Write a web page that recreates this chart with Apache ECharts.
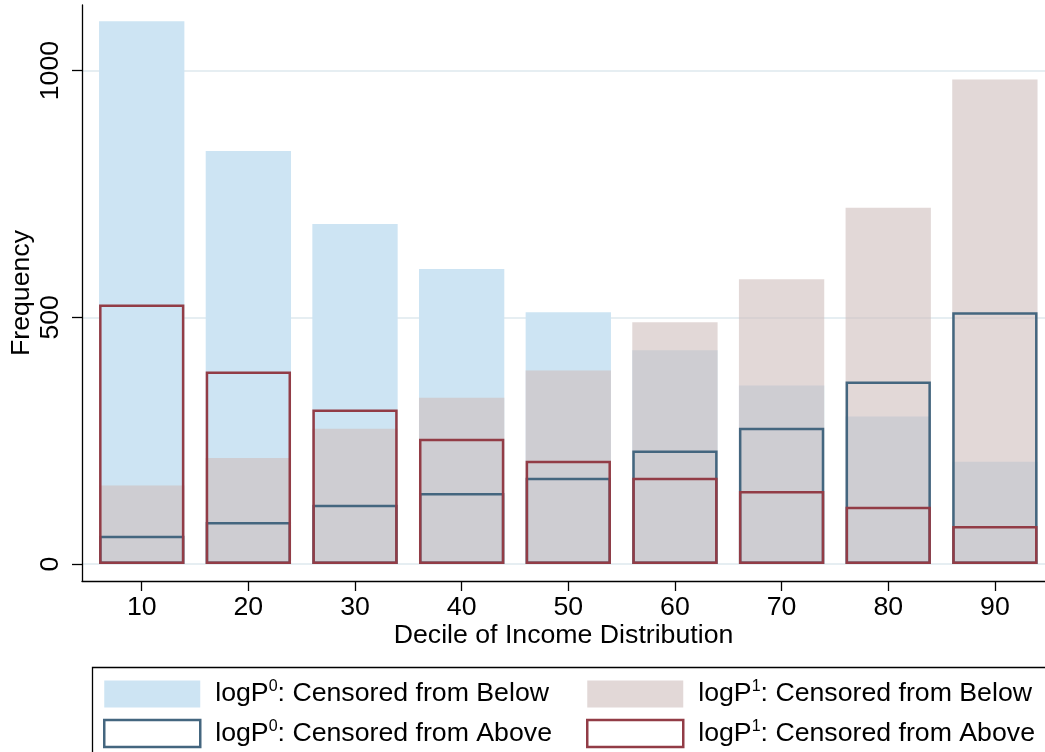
<!DOCTYPE html>
<html>
<head>
<meta charset="utf-8">
<script src="https://cdn.jsdelivr.net/npm/echarts@6/dist/echarts.min.js"></script>
<style>
html,body{margin:0;padding:0;background:#fff;}
#chart{width:1045px;height:752px;}
</style>
</head>
<body>
<div id="chart"></div>
<script>
// ---- data ----
const deciles = [10, 20, 30, 40, 50, 60, 70, 80, 90];
const p0Below = [1100, 837, 689, 598, 510, 433, 362, 299, 207];
const p1Below = [159, 215, 274, 337, 392, 490, 577, 722, 982];
const p0Above = [57, 85, 120, 144, 175, 230, 276, 370, 510];
const p1Above = [526, 390, 313, 254, 209, 175, 148, 116, 77];
const yTicks = [0, 500, 1000];
const xTicks = [10, 20, 30, 40, 50, 60, 70, 80, 90];

const names = {
  p0Below: 'logP0: Censored from Below',
  p1Below: 'logP1: Censored from Below',
  p0Above: 'logP0: Censored from Above',
  p1Above: 'logP1: Censored from Above'
};

const FONT = '"Liberation Sans", Arial, Helvetica, sans-serif';
const FS = 26.7;
const HALF = 4; // half bar width in x units
const BLUE_FILL = '#cde4f3';
const PINK_FILL = 'rgba(207,190,188,0.6)';
const PINK_LEGEND = '#e2d8d7';
const BLUE_LINE = '#44667f';
const RED_LINE = '#923c46';

function pairs(vals) { return deciles.map((d, i) => [d, vals[i]]); }

function renderFill(color) {
  return function (params, api) {
    const x = api.value(0), v = api.value(1);
    const tl = api.coord([x - HALF, v]);
    const br = api.coord([x + HALF, 0]);
    return {
      type: 'rect',
      shape: { x: tl[0], y: tl[1], width: br[0] - tl[0], height: br[1] - tl[1] },
      style: { fill: color, stroke: null }
    };
  };
}
function renderOutline(color, lw) {
  return function (params, api) {
    const x = api.value(0), v = api.value(1);
    const tl = api.coord([x - HALF, v]);
    const br = api.coord([x + HALF, 0]);
    const h = lw / 2;
    return {
      type: 'rect',
      shape: { x: tl[0] + h, y: tl[1] + h, width: br[0] - tl[0] - lw, height: br[1] - tl[1] - lw },
      style: { fill: 'none', stroke: color, lineWidth: lw }
    };
  };
}

function legendFormatter(name) {
  const m = name.match(/^logP(\d)(.*)$/);
  return '{g|}{a|logP}{s|' + m[1] + '}{a|' + m[2] + '}';
}
const legendRich = {
  g: { width: 10 },
  a: { fontSize: FS, fontFamily: FONT, color: '#000', lineHeight: 30 },
  s: { fontSize: 16, fontFamily: FONT, color: '#000', lineHeight: 18, verticalAlign: 'top' }
};

const chart = echarts.init(document.getElementById('chart'), null, { renderer: 'canvas' });
chart.setOption({
  animation: false,
  backgroundColor: '#fff',
  grid: { left: 82, right: 0, top: 5, bottom: 171, containLabel: false, outerBoundsMode: 'none' },
  xAxis: {
    type: 'value',
    min: 4.4, max: 94.7,
    name: 'Decile of Income Distribution',
    nameLocation: 'middle',
    nameGap: 41,
    nameMoveOverlap: false,
    nameTextStyle: { fontSize: FS, fontFamily: FONT, color: '#000' },
    axisLine: { show: true, onZero: false, lineStyle: { color: '#000', width: 1.3 } },
    axisTick: { show: true, length: 10, customValues: xTicks, lineStyle: { color: '#000', width: 1.3 } },
    axisLabel: { customValues: xTicks, fontSize: FS, fontFamily: FONT, color: '#000', margin: 13, formatter: v => String(v) },
    splitLine: { show: false }
  },
  yAxis: {
    type: 'value',
    min: -34.5, max: 1133,
    name: 'Frequency',
    nameLocation: 'middle',
    nameGap: 47,
    nameMoveOverlap: false,
    nameTextStyle: { fontSize: FS, fontFamily: FONT, color: '#000' },
    axisLine: { show: true, onZero: false, lineStyle: { color: '#000', width: 1.3 } },
    axisTick: { show: true, length: 10, customValues: yTicks, lineStyle: { color: '#000', width: 1.3 } },
    axisLabel: { customValues: yTicks, rotate: 90, fontSize: FS, fontFamily: FONT, color: '#000', margin: 18, formatter: v => String(v) },
    splitLine: { show: true, lineStyle: { color: '#e6eef2', width: 2 } }
  },
  legend: [
    {
      left: 103, top: 679, orient: 'vertical', padding: 0,
      itemWidth: 96, itemHeight: 27, itemGap: 11,
      formatter: legendFormatter,
      textStyle: { rich: legendRich },
      data: [
        { name: names.p0Below, icon: 'rect', itemStyle: { color: BLUE_FILL, borderWidth: 0 } },
        { name: names.p0Above, icon: 'rect', itemStyle: { color: '#fff', borderColor: BLUE_LINE, borderWidth: 2.5 } }
      ]
    },
    {
      left: 586, top: 679, orient: 'vertical', padding: 0,
      itemWidth: 96, itemHeight: 27, itemGap: 11,
      formatter: legendFormatter,
      textStyle: { rich: legendRich },
      data: [
        { name: names.p1Below, icon: 'rect', itemStyle: { color: PINK_LEGEND, borderWidth: 0 } },
        { name: names.p1Above, icon: 'rect', itemStyle: { color: '#fff', borderColor: RED_LINE, borderWidth: 2.5 } }
      ]
    }
  ],
  graphic: [
    {
      type: 'rect', silent: true, z: 100,
      shape: { x: 92.5, y: 667.5, width: 1000, height: 200 },
      style: { fill: 'none', stroke: '#000', lineWidth: 1.3 }
    }
  ],
  series: [
    { name: names.p0Below, type: 'custom', renderItem: renderFill(BLUE_FILL), data: pairs(p0Below), itemStyle: { color: BLUE_FILL }, z: 2 },
    { name: names.p1Below, type: 'custom', renderItem: renderFill(PINK_FILL), data: pairs(p1Below), itemStyle: { color: PINK_LEGEND }, z: 3 },
    { name: names.p0Above, type: 'custom', renderItem: renderOutline(BLUE_LINE, 2.5), data: pairs(p0Above), itemStyle: { color: BLUE_LINE }, z: 4 },
    { name: names.p1Above, type: 'custom', renderItem: renderOutline(RED_LINE, 2.5), data: pairs(p1Above), itemStyle: { color: RED_LINE }, z: 5 }
  ]
});
</script>
</body>
</html>
